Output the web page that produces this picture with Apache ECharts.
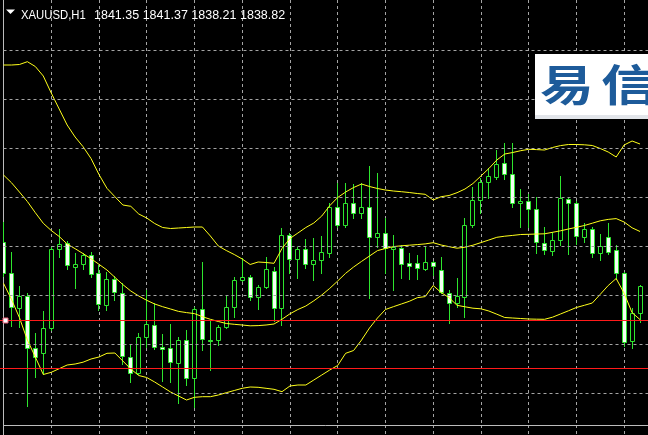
<!DOCTYPE html>
<html><head><meta charset="utf-8">
<script src="https://cdn.jsdelivr.net/npm/echarts@6/dist/echarts.min.js"></script>
<style>html,body{margin:0;padding:0;background:#000;}#c{width:648px;height:435px;}</style>
</head><body><div id="c"></div>
<script>
const categories = ['01:00','02:00','03:00','04:00','05:00','06:00','07:00','08:00','09:00','10:00','11:00','12:00','13:00','14:00','15:00','16:00','17:00','18:00','19:00','20:00','21:00','22:00','23:00','00:00',
'01:00','02:00','03:00','04:00','05:00','06:00','07:00','08:00','09:00','10:00','11:00','12:00','13:00','14:00','15:00','16:00','17:00','18:00','19:00','20:00','21:00','22:00','23:00','00:00',
'01:00','02:00','03:00','04:00','05:00','06:00','07:00','08:00','09:00','10:00','11:00','12:00','13:00','14:00','15:00','16:00','17:00','18:00','19:00','20:00','21:00','22:00','23:00','00:00',
'01:00','02:00','03:00','04:00','05:00','06:00','07:00','08:00','09:00','10:00'];

const opens = [1845.80,1842.70,1839.17,1840.43,1835.17,1834.70,1837.17,1845.07,1845.67,1843.33,
1843.57,1844.50,1842.67,1839.55,1842.07,1840.75,1834.35,1832.67,1836.33,1837.50,
1835.30,1835.17,1833.73,1836.00,1832.25,1839.07,1835.97,1836.00,1837.33,1839.27,
1841.95,1842.27,1840.33,1841.27,1842.90,1839.17,1846.50,1844.07,1845.07,1843.57,
1843.95,1844.67,1849.27,1847.50,1849.67,1848.75,1849.27,1846.35,1846.73,1845.10,
1845.17,1843.67,1843.65,1843.07,1843.77,1842.95,1840.75,1839.73,1840.33,1847.50,
1849.95,1851.83,1852.33,1853.67,1852.60,1849.67,1849.93,1849.13,1845.67,1844.93,
1845.95,1850.07,1849.67,1846.33,1847.07,1844.75,1846.33,1844.97,1842.67,1835.87,
1838.73];
const closes = [1842.70,1839.30,1840.43,1835.17,1834.35,1837.20,1845.07,1845.60,1843.45,1843.57,
1844.50,1842.60,1839.60,1842.07,1840.80,1834.40,1832.67,1836.35,1837.57,1835.27,
1835.10,1833.83,1836.00,1832.25,1839.07,1836.07,1835.90,1837.27,1839.27,1842.00,
1842.27,1840.27,1841.33,1843.07,1839.17,1846.50,1844.07,1845.07,1843.57,1844.00,
1844.83,1849.30,1847.50,1849.67,1848.75,1849.27,1846.27,1846.75,1845.20,1845.30,
1843.60,1843.43,1843.17,1843.77,1843.43,1840.83,1839.75,1840.40,1847.50,1850.00,
1851.83,1852.37,1853.60,1852.57,1849.67,1849.93,1849.07,1845.80,1845.00,1846.00,
1850.17,1849.67,1846.37,1847.07,1844.75,1845.43,1844.83,1842.67,1835.83,1838.73,
1841.37];
const lows = [1842.40,1837.40,1837.30,1829.40,1832.30,1832.60,1837.00,1844.33,1843.10,1841.20,
1843.10,1842.30,1839.00,1838.95,1840.00,1833.60,1831.83,1832.60,1835.33,1835.10,
1831.90,1831.83,1829.70,1831.50,1829.30,1835.00,1833.00,1835.45,1837.25,1838.33,
1841.90,1840.00,1839.07,1841.15,1837.90,1837.55,1842.65,1842.17,1843.17,1842.00,
1842.67,1844.33,1847.33,1847.33,1848.17,1848.20,1840.25,1845.33,1842.73,1841.00,
1842.17,1842.07,1842.10,1842.95,1842.50,1840.73,1837.67,1839.33,1838.33,1847.33,
1848.67,1850.23,1852.13,1852.10,1849.30,1847.30,1847.33,1844.75,1844.60,1844.45,
1845.55,1844.60,1845.60,1845.83,1844.33,1843.95,1844.60,1842.10,1835.37,1835.23,
1837.83];
const highs = [1847.80,1844.80,1841.40,1840.70,1836.70,1838.90,1845.30,1847.07,1845.90,1844.67,
1844.67,1844.80,1843.50,1842.80,1842.40,1841.67,1835.60,1836.70,1841.00,1839.67,
1836.60,1837.60,1836.30,1836.95,1839.33,1843.83,1838.00,1837.50,1840.50,1842.33,
1844.17,1842.50,1841.50,1844.30,1843.33,1847.17,1846.67,1845.33,1846.10,1846.20,
1846.37,1849.67,1851.75,1851.70,1851.60,1851.67,1853.40,1852.70,1848.17,1846.50,
1845.50,1844.70,1844.45,1845.40,1843.93,1844.27,1841.00,1842.17,1848.17,1851.33,
1852.17,1853.25,1855.05,1855.67,1855.65,1851.10,1850.60,1850.35,1847.30,1846.83,
1852.37,1850.30,1849.87,1847.67,1847.33,1846.60,1847.67,1845.45,1842.77,1839.17,
1841.50];

const upperBand = [1863.50,1863.50,1863.55,1863.83,1863.35,1862.40,1860.70,1859.10,1857.50,1856.30,
1855.33,1854.15,1852.55,1851.17,1850.33,1849.50,1849.37,1848.60,1848.20,1847.65,
1847.25,1847.15,1847.20,1847.25,1847.30,1847.30,1846.40,1845.40,1844.95,1844.55,
1844.10,1843.55,1843.80,1843.75,1843.67,1845.15,1846.15,1846.70,1847.25,1847.70,
1848.40,1849.43,1850.25,1850.80,1851.25,1851.60,1851.35,1851.15,1851.00,1850.90,
1850.83,1850.75,1850.65,1850.57,1850.00,1850.33,1850.45,1850.73,1851.10,1851.65,
1852.40,1853.15,1854.00,1854.60,1854.75,1854.93,1855.07,1855.04,1855.00,1855.25,
1855.44,1855.55,1855.55,1855.52,1855.45,1855.15,1854.80,1854.30,1855.50,1855.90,
1855.60];
const middleBand = [1852.50,1851.73,1850.80,1849.85,1848.73,1847.67,1846.95,1846.35,1845.60,1845.13,
1844.64,1844.13,1843.57,1843.00,1842.27,1841.54,1840.90,1840.40,1839.97,1839.60,
1839.33,1839.10,1838.86,1838.74,1838.64,1838.33,1838.07,1837.85,1837.65,1837.57,
1837.50,1837.42,1837.44,1837.50,1837.60,1838.07,1838.62,1839.05,1839.40,1839.92,
1840.50,1841.16,1841.90,1842.67,1843.30,1843.86,1844.40,1844.94,1845.15,1845.34,
1845.42,1845.48,1845.54,1845.61,1845.73,1845.50,1845.33,1845.18,1845.28,1845.48,
1845.74,1846.00,1846.27,1846.38,1846.46,1846.55,1846.57,1846.60,1846.62,1846.77,
1846.92,1847.10,1847.27,1847.45,1847.68,1847.92,1848.06,1848.14,1847.80,1847.22,
1846.85];
const lowerBand = [1841.67,1840.07,1838.24,1836.00,1834.30,1832.55,1832.77,1833.13,1833.50,1833.60,
1833.78,1834.10,1834.30,1834.67,1834.70,1833.90,1833.10,1832.45,1832.25,1831.80,
1831.30,1830.80,1830.40,1830.00,1830.27,1830.33,1830.33,1830.50,1830.73,1830.95,
1831.17,1831.30,1831.27,1831.17,1831.07,1830.83,1831.40,1831.50,1831.50,1832.00,
1832.50,1833.00,1833.45,1834.67,1834.95,1836.00,1837.20,1838.20,1839.05,1839.33,
1839.60,1839.87,1840.23,1840.34,1841.45,1840.75,1840.23,1839.47,1839.32,1839.18,
1839.12,1838.90,1838.58,1838.25,1838.20,1838.15,1838.10,1838.08,1838.07,1838.28,
1838.60,1838.92,1839.25,1839.47,1839.70,1840.57,1841.45,1842.15,1840.67,1838.73,
1838.04];

const gridLevels = [1864.95,1860.05,1855.15,1850.25,1845.35,1840.45,1835.55,1830.65];
const upperRedLine = 1837.95;
const lowerRedLine = 1833.15;
const titleSymbol = 'XAUUSD,H1';
const titleQuotes = '1841.35 1841.37 1838.21 1838.82';
const logoChars = ['易','信'];

const GREEN = '#2ee62e';
const GRIDC = '#a4a4a4';
const FRAME = '#bcbcbc';
const YELLOW = '#ffff1a';
const RED = '#ff1a1a';

const candleRows = opens.map((o, i) => [i, o, closes[i], lows[i], highs[i]]);
const chart = echarts.init(document.getElementById('c'), null, {renderer: 'canvas'});
const dashed = {color: GRIDC, type: [3, 3], width: 1};

function renderCandle(params, api) {
  const i = api.value(0);
  const o = api.value(1), c = api.value(2), l = api.value(3), h = api.value(4);
  const pO = api.coord([i, o]), pC = api.coord([i, c]);
  const pL = api.coord([i, l]), pH = api.coord([i, h]);
  const cx = Math.floor(pO[0]) + 0.5;
  const yTop = Math.round(Math.min(pO[1], pC[1])) + 0.5;
  const yBot = Math.round(Math.max(pO[1], pC[1])) + 0.5;
  const bull = c > o;
  return {
    type: 'group',
    children: [
      {type: 'line', shape: {x1: cx, y1: Math.round(pH[1]), x2: cx, y2: Math.round(pL[1]) + 1},
       style: {stroke: GREEN, lineWidth: 1}},
      {type: 'rect', shape: {x: cx - 2, y: yTop, width: 4, height: Math.max(yBot - yTop, 0)},
       style: {fill: bull ? '#000000' : '#f4fff4', stroke: GREEN, lineWidth: 1}}
    ]
  };
}

function renderLevel(params, api) {
  const p = api.coord([0, api.value(0)]);
  const y = Math.floor(p[1]) + 0.5;
  return {type: 'line', shape: {x1: 0, y1: y, x2: 648, y2: y}, style: {stroke: RED, lineWidth: 1}};
}

const option = {
  backgroundColor: '#000000',
  animation: false,
  grid: [
    {left: 3.5, top: 0, width: 648, height: 425},
    {left: 3.5, top: 425, width: 648, height: 40}
  ],
  xAxis: [
    {type: 'category', gridIndex: 0, data: categories, boundaryGap: false,
     axisLine: {show: true, onZero: false, lineStyle: {color: FRAME}},
     axisTick: {show: false}, axisLabel: {show: false, interval: 5},
     splitLine: {show: true, interval: 5, lineStyle: dashed}},
    {type: 'category', gridIndex: 1, data: categories, boundaryGap: false,
     axisLine: {show: false}, axisTick: {show: false}, axisLabel: {show: false, interval: 5},
     splitLine: {show: true, interval: 5, lineStyle: dashed}}
  ],
  yAxis: [
    {type: 'value', gridIndex: 0, min: 1827.5, max: 1870,
     axisLine: {show: true, onZero: false, lineStyle: {color: FRAME}},
     axisTick: {show: false}, axisLabel: {show: false}, splitLine: {show: false}},
    {type: 'value', gridIndex: 1, min: 0, max: 1,
     axisLine: {show: true, onZero: false, lineStyle: {color: FRAME}},
     axisTick: {show: false}, axisLabel: {show: false}, splitLine: {show: false}}
  ],
  series: [
    {type: 'line', name: 'grid', xAxisIndex: 0, yAxisIndex: 0, data: [], z: 1, silent: true,
     markLine: {silent: true, symbol: ['none', 'none'], label: {show: false},
       lineStyle: dashed, data: gridLevels.map(v => ({yAxis: v}))}},
    {type: 'custom', name: 'XAUUSD,H1', xAxisIndex: 0, yAxisIndex: 0, data: candleRows,
     dimensions: ['idx', 'open', 'close', 'low', 'high'],
     encode: {x: 0, y: [1, 2, 3, 4]}, renderItem: renderCandle, z: 3, clip: true, silent: true},
    {type: 'line', name: 'BB upper', data: upperBand, symbol: 'none', z: 4, silent: true,
     lineStyle: {color: YELLOW, width: 1}},
    {type: 'line', name: 'BB middle', data: middleBand, symbol: 'none', z: 4, silent: true,
     lineStyle: {color: YELLOW, width: 1}},
    {type: 'line', name: 'BB lower', data: lowerBand, symbol: 'none', z: 4, silent: true,
     lineStyle: {color: YELLOW, width: 1}},
    {type: 'custom', name: 'levels', xAxisIndex: 0, yAxisIndex: 0, z: 5, silent: true, clip: false,
     data: [[upperRedLine], [lowerRedLine]], dimensions: ['price'], encode: {y: 0},
     renderItem: renderLevel},
    {type: 'scatter', name: 'level anchor', z: 6, silent: true,
     data: [[0, upperRedLine]], symbol: 'rect', symbolSize: 5, symbolOffset: [2, 0],
     itemStyle: {color: '#ffffff', borderColor: '#e8607a', borderWidth: 1, opacity: 1}}
  ],
  graphic: [
    {type: 'polygon', z: 100, shape: {points: [[6, 9.5], [15, 9.5], [10.5, 14]]}, style: {fill: '#ffffff'}},
    {type: 'text', z: 100, x: 21, y: 15.5, scaleX: 0.87,
     style: {text: titleSymbol, fill: '#ffffff', font: '13px "Liberation Sans"', verticalAlign: 'middle'}},
    {type: 'text', z: 100, x: 94, y: 15.5,
     style: {text: titleQuotes, fill: '#ffffff', font: '12.5px "Liberation Sans"', verticalAlign: 'middle'}},
    {type: 'rect', z: 100, shape: {x: 535, y: 54, width: 113, height: 65}, style: {fill: '#ffffff'}},
    {type: 'rect', z: 101, shape: {x: 535, y: 115, width: 113, height: 4}, style: {fill: '#e2e5ea'}},
    {type: 'text', z: 102, x: 540, y: 85, scaleX: 1.25,
     style: {text: logoChars[0], fill: '#1d5b9a', font: 'bold 43px "Noto Sans CJK SC"', verticalAlign: 'middle'}},
    {type: 'text', z: 102, x: 601, y: 85, scaleX: 1.3,
     style: {text: logoChars[1], fill: '#1d5b9a', font: 'bold 43px "Noto Sans CJK SC"', verticalAlign: 'middle'}}
  ]
};
chart.setOption(option);
</script></body></html>
